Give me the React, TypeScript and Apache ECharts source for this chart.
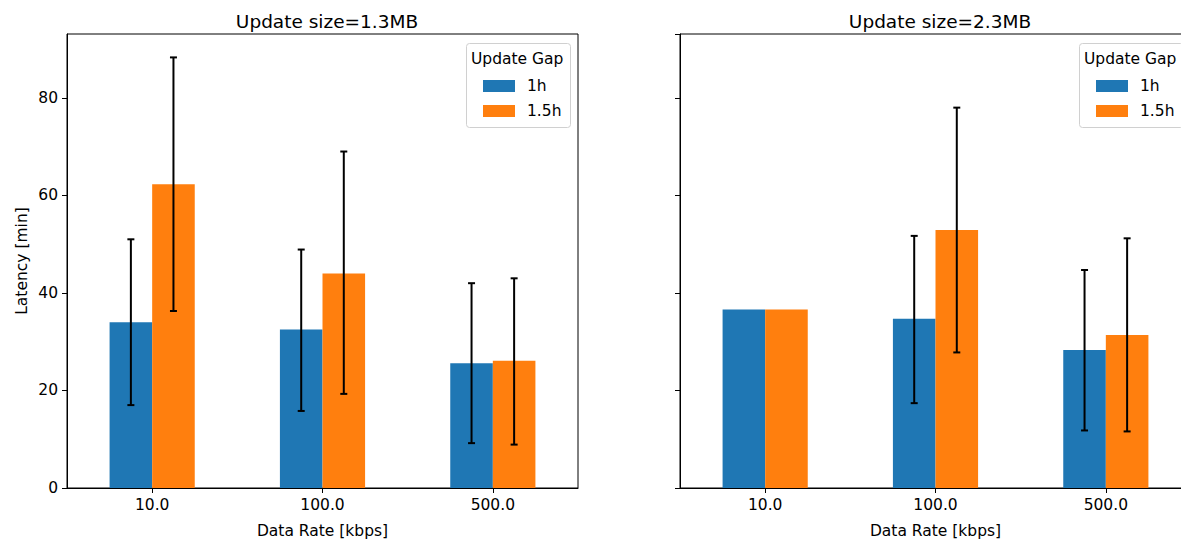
import React, { useEffect, useRef } from "react";
import * as echarts from "echarts";

const categories = ["10.0", "100.0", "500.0"];
const seriesNames = ["1h", "1.5h"];

// Panel 1: Update size=1.3MB
const p1Mean1h = [34.0, 32.5, 25.6];
const p1Mean15h = [62.3, 44.0, 26.1];
const p1Low1h = [17.0, 15.8, 9.2];
const p1High1h = [51.0, 48.9, 42.0];
const p1Low15h = [36.3, 19.3, 8.9];
const p1High15h = [88.3, 69.0, 43.0];

// Panel 2: Update size=2.3MB (no error bars at 10.0)
const p2Mean1h = [36.6, 34.7, 28.3];
const p2Mean15h = [36.6, 52.9, 31.4];
const p2Low1h = [null, 17.4, 11.8];
const p2High1h = [null, 51.7, 44.7];
const p2Low15h = [null, 27.8, 11.6];
const p2High15h = [null, 78.0, 51.2];

const panelTitles = ["Update size=1.3MB", "Update size=2.3MB"];
const legendTitle = "Update Gap";
const yTicks = [0, 20, 40, 60, 80];

const BLUE = "#1f77b4";
const ORANGE = "#ff7f0e";
const FONT = "DejaVu Sans";
const FS = 15.5;

function errData(low: (number | null)[], high: (number | null)[], off: number) {
  const out: any[] = [];
  low.forEach((l, i) => {
    const h = high[i];
    if (l != null && h != null) out.push([i, l, h, off]);
  });
  return out;
}

const renderErr = (params: any, api: any) => {
  const idx = api.value(0);
  const lo = api.coord([idx, api.value(1)]);
  const hi = api.coord([idx, api.value(2)]);
  const band = api.size([1, 0])[0];
  const x = lo[0] + api.value(3) * band;
  const cap = 3.5;
  const style = { stroke: "#000", lineWidth: 2 };
  return {
    type: "group",
    children: [
      { type: "line", shape: { x1: x, y1: lo[1], x2: x, y2: hi[1] }, style },
      { type: "line", shape: { x1: x - cap, y1: lo[1], x2: x + cap, y2: lo[1] }, style },
      { type: "line", shape: { x1: x - cap, y1: hi[1], x2: x + cap, y2: hi[1] }, style },
    ],
  };
};

export default function App() {
  const ref = useRef<HTMLDivElement>(null);
  useEffect(() => {
    if (!ref.current) return;
    const chart = echarts.init(ref.current, null, { renderer: "svg" });
    const textBase = { fontFamily: FONT, color: "#000" };
    const grids = [
      { left: 67, right: 603, top: 34, bottom: 54 },
      { left: 680, right: -10, top: 34, bottom: 54 },
    ];
    const mkX = (gi: number) => ({
      type: "category",
      gridIndex: gi,
      data: categories,
      name: "Data Rate [kbps]",
      nameLocation: "middle",
      nameGap: 35,
      nameTextStyle: { ...textBase, fontSize: FS },
      axisLine: { show: true, lineStyle: { color: "#000", width: 1 } },
      axisTick: { show: true, alignWithLabel: true, length: 5, lineStyle: { color: "#000" } },
      axisLabel: { ...textBase, fontSize: FS, margin: 9 },
      splitLine: { show: false },
    });
    const mkY = (gi: number) => ({
      type: "value",
      gridIndex: gi,
      min: 0,
      max: 93.1,
      interval: 20,
      name: gi === 0 ? "Latency [min]" : "",
      nameLocation: "middle",
      nameRotate: 90,
      nameGap: 37,
      nameTextStyle: { ...textBase, fontSize: FS },
      axisLine: { show: true, lineStyle: { color: "#000", width: 1 } },
      axisTick: { show: true, length: 5, lineStyle: { color: "#000" } },
      axisLabel: {
        show: gi === 0,
        ...textBase,
        fontSize: FS,
        margin: 9,
        showMaxLabel: false,
        formatter: (v: number) => (yTicks.includes(v) ? String(v) : ""),
      },
      splitLine: { show: false },
    });
    const barSeries = (gi: number, d1: number[], d2: number[]) => [
      {
        name: seriesNames[0],
        type: "bar",
        xAxisIndex: gi,
        yAxisIndex: gi,
        data: d1,
        barWidth: "25%",
        barGap: "0%",
        itemStyle: { color: BLUE },
      },
      {
        name: seriesNames[1],
        type: "bar",
        xAxisIndex: gi,
        yAxisIndex: gi,
        data: d2,
        barWidth: "25%",
        barGap: "0%",
        itemStyle: { color: ORANGE },
      },
    ];
    const errSeries = (gi: number, data: any[]) => ({
      type: "custom",
      xAxisIndex: gi,
      yAxisIndex: gi,
      renderItem: renderErr,
      data,
      z: 5,
      silent: true,
    });
    const legendBoxes = [466, 1079];
    const legends = legendBoxes.map((bx) => ({
      orient: "vertical",
      left: bx + 12,
      top: 73,
      z: 20,
      itemWidth: 32,
      itemHeight: 12,
      itemGap: 9,
      icon: "rect",
      data: seriesNames,
      textStyle: { ...textBase, fontSize: FS, padding: [0, 0, 0, 7] },
      selectedMode: false,
    }));
    const graphics: any[] = [];
    legendBoxes.forEach((bx) => {
      graphics.push({
        type: "rect",
        left: bx,
        top: 43,
        z: 6,
        shape: { width: 104, height: 84, r: 3 },
        style: { fill: "rgba(255,255,255,0.8)", stroke: "#d0d0d0", lineWidth: 1 },
      });
      graphics.push({
        type: "text",
        left: bx + 5,
        top: 51,
        z: 21,
        style: { text: legendTitle, font: `${FS}px '${FONT}'`, fill: "#000" },
      });
    });
    chart.setOption({
      animation: false,
      backgroundColor: "#fff",
      title: [
        {
          text: panelTitles[0],
          left: 322,
          top: 7,
          textAlign: "center",
          textStyle: { ...textBase, fontSize: 18.5, fontWeight: "normal" },
        },
        {
          text: panelTitles[1],
          left: 935,
          top: 7,
          textAlign: "center",
          textStyle: { ...textBase, fontSize: 18.5, fontWeight: "normal" },
        },
      ],
      grid: grids.map((g) => ({
        ...g,
        show: true,
        borderColor: "#000",
        borderWidth: 1,
        backgroundColor: "transparent",
        outerBoundsMode: "none",
        containLabel: false,
      })),
      xAxis: [mkX(0), mkX(1)],
      yAxis: [mkY(0), mkY(1)],
      legend: legends,
      graphic: graphics,
      series: [
        ...barSeries(0, p1Mean1h, p1Mean15h),
        ...barSeries(1, p2Mean1h, p2Mean15h),
        errSeries(0, [...errData(p1Low1h, p1High1h, -0.125), ...errData(p1Low15h, p1High15h, 0.125)]),
        errSeries(1, [...errData(p2Low1h, p2High1h, -0.125), ...errData(p2Low15h, p2High15h, 0.125)]),
      ],
    });
    return () => chart.dispose();
  }, []);
  return (
    <div
      ref={ref}
      style={{ position: "absolute", left: 0, top: 0, width: 1181, height: 542, background: "#fff" }}
    />
  );
}
